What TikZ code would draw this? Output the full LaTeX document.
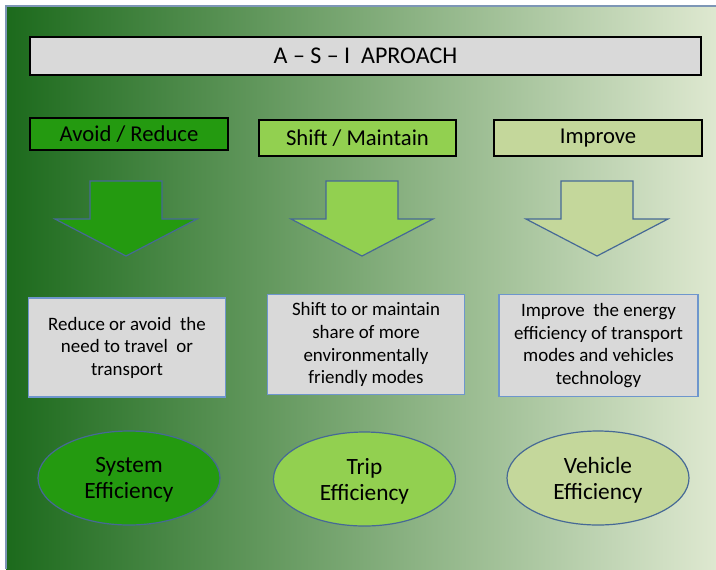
\documentclass[tikz,border=0pt]{standalone}
\usepackage{fontspec}
\setmainfont{Carlito}
\usepackage{tikz}
\usetikzlibrary{shapes.geometric}

\definecolor{bgdark}{RGB}{28,106,28}
\definecolor{bgmid}{RGB}{160,189,112}
\definecolor{bglight}{RGB}{222,232,208}
\definecolor{avoidfill}{RGB}{36,154,16}
\definecolor{shiftfill}{RGB}{146,208,80}
\definecolor{improvefill}{RGB}{196,215,155}
\definecolor{boxgray}{RGB}{217,217,217}
\definecolor{noteline}{RGB}{110,150,205}
\definecolor{shapeline}{RGB}{70,105,150}

\begin{document}
\begin{tikzpicture}[
  x=0.75pt, y=-0.75pt,
  title/.style={draw=black, line width=1.4pt, fill=boxgray, minimum width=503pt,
    minimum height=28.5pt, inner sep=1pt, font=\fontsize{18}{20}\selectfont},
  tag/.style={draw=black, line width=1.4pt, minimum height=27pt, inner sep=1pt,
    font=\fontsize{17}{19}\selectfont},
  note/.style={draw=noteline, line width=1.1pt, fill=boxgray, align=center,
    font=\fontsize{14.2}{16.9}\selectfont, minimum width=148pt},
  goal/.style={draw=shapeline, line width=0.9pt, ellipse, align=center,
    minimum width=136.5pt, minimum height=70.5pt, inner sep=0pt, text depth=0pt,
    font=\fontsize{17.5}{19.5}\selectfont}
]
\useasboundingbox (0,0) rectangle (716,569);

% background panel
\shade[left color=bgdark, middle color=bgmid, right color=bglight]
  (6,6) rectangle (716,569);
\draw[shapeline!70, line width=0.8pt] (6,569) -- (6,6) -- (716,6);

\node[title] (asi) at (365.5,56) {A – S – I~ APROACH};

% the three strategies
\node[tag, fill=avoidfill, minimum width=148.5pt, minimum height=24pt] (avoid) at (129,134) {Avoid / Reduce};
\node[tag, fill=shiftfill, minimum width=147.5pt] (shift) at (357.5,138) {Shift / Maintain};
\node[tag, fill=improvefill, minimum width=156pt] (improve) at (598,138) {Improve};

% block arrows
\foreach \cx/\col in {126/avoidfill, 362/shiftfill, 597/improvefill}
  \draw[shapeline, line width=0.9pt, fill=\col, line join=miter]
    (\cx-36,181) -- (\cx+36,181) -- (\cx+36,219) -- (\cx+71,219)
    -- (\cx,256) -- (\cx-71,219) -- (\cx-36,219) -- cycle;

% descriptions
\node[note, minimum height=74pt] (avoidtxt) at (127,347.5)
  {Reduce or avoid~ the\\need to travel~ or\\transport};
\node[note, minimum height=75pt, anchor=north] (shifttxt) at (366,294)
  {Shift to or maintain\\share of more\\environmentally\\friendly modes};
\node[note, minimum width=149pt, minimum height=76.5pt, anchor=north] (improvetxt) at (598.5,294)
  {Improve~ the energy\\efficiency of transport\\modes and vehicles\\technology};

% efficiency levels
\node[goal, fill=avoidfill] (sys) at (129,478) {System\\Efficiency};
\node[goal, fill=shiftfill] (trip) at (364.5,479) {Trip\\Efficiency};
\node[goal, fill=improvefill] (veh) at (598,478) {Vehicle\\Efficiency};
\end{tikzpicture}
\end{document}
